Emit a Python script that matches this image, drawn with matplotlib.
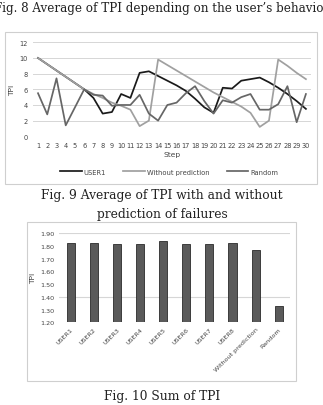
import matplotlib.pyplot as plt
from matplotlib.patches import Rectangle

# Fig. 9 data: average TPI per step
steps = list(range(1, 31))
user1 = [10, 9.2, 8.4, 7.6, 6.8, 6.0, 4.9, 2.9, 3.1, 5.4,
         4.9, 8.1, 8.3, 7.7, 7.1, 6.5, 5.8, 4.8, 3.7, 3.0,
         6.2, 6.1, 7.1, 7.3, 7.5, 6.9, 6.2, 5.4, 4.5, 3.5]
without_pred = [10, 9.2, 8.4, 7.6, 6.8, 6.0, 5.4, 4.9, 4.3, 3.9,
                3.4, 1.3, 2.0, 9.8, 9.1, 8.4, 7.7, 7.0, 6.3, 5.6,
                5.0, 4.4, 3.8, 3.0, 1.2, 2.0, 9.8, 9.0, 8.1, 7.3]
random_tpi = [5.5, 2.8, 7.4, 1.4, 3.7, 6.0, 5.3, 5.2, 3.9, 4.0,
              4.0, 5.3, 2.9, 2.0, 4.0, 4.3, 5.5, 6.4, 4.5, 2.9,
              4.6, 4.3, 5.0, 5.4, 3.4, 3.4, 4.1, 6.4, 1.8, 5.4]

# Fig. 10 data: sum of TPI
bar_labels = ['USER1', 'USER2', 'USER3', 'USER4', 'USER5', 'USER6',
              'USER7', 'USER8', 'Without prediction', 'Random']
tpi_sum = [1.82, 1.825, 1.81, 1.81, 1.84, 1.81, 1.815, 1.825, 1.77, 1.33]

fig = plt.figure(figsize=(3.23, 4.06), dpi=100)
cap_font = dict(family='DejaVu Serif', fontsize=8.8, color='#222222')

# captions (the top one runs past the page edges, as in the scanned page)
fig.text(0.501, 0.980, 'Fig. 8 Average of TPI depending on the user\u2019s behavior',
         ha='center', va='center', family='DejaVu Serif', fontsize=8.6, color='#222222')
fig.text(0.502, 0.518, 'Fig. 9 Average of TPI with and without',
         ha='center', va='center', **cap_font)
fig.text(0.502, 0.471, 'prediction of failures', ha='center', va='center', **cap_font)
fig.text(0.502, 0.024, 'Fig. 10 Sum of TPI', ha='center', va='center', **cap_font)

# chart frames
fig.patches.append(Rectangle((0.0155, 0.5443), 0.966, 0.3744, transform=fig.transFigure,
                             fill=False, edgecolor='#cfcfcf', linewidth=0.8))
fig.patches.append(Rectangle((0.0836, 0.0591), 0.833, 0.3916, transform=fig.transFigure,
                             fill=False, edgecolor='#cfcfcf', linewidth=0.8))

# line chart
ax1 = fig.add_axes([0.1034, 0.6618, 0.858, 0.2315])
ax1.plot(steps, user1, color='#1a1a1a', linewidth=1.25, label='USER1')
ax1.plot(steps, without_pred, color='#a0a0a0', linewidth=1.25, label='Without prediction')
ax1.plot(steps, random_tpi, color='#666666', linewidth=1.25, label='Random')
ax1.set_xlim(0.5, 30.5)
ax1.set_ylim(0, 12)
ax1.set_yticks(range(0, 13, 2))
ax1.set_xticks(steps)
ax1.grid(axis='y', color='#d6d6d6', linewidth=0.7)
ax1.set_axisbelow(True)
for s in ax1.spines.values():
    s.set_visible(False)
ax1.tick_params(length=0, labelsize=4.8, labelcolor='#444444', pad=4)
ax1.set_xlabel('Step', fontsize=5.4, color='#444444', labelpad=2)
ax1.set_ylabel('TPI', fontsize=5.4, color='#444444', labelpad=3)
ax1.legend(loc='upper center', bbox_to_anchor=(0.49, -0.28), ncol=3, frameon=False,
           fontsize=4.9, handlelength=3.2, columnspacing=2.5, handletextpad=0.3,
           labelcolor='#444444')

# bar chart
ax2 = fig.add_axes([0.1833, 0.2037, 0.7155, 0.2199])
ax2.bar(range(len(tpi_sum)), tpi_sum, width=0.35, color='#5a5a5a',
        edgecolor='#2a2a2a', linewidth=0.6)
ax2.set_xlim(-0.5, len(tpi_sum) - 0.5)
ax2.set_ylim(1.20, 1.90)
ax2.set_yticks([1.20, 1.30, 1.40, 1.50, 1.60, 1.70, 1.80, 1.90])
ax2.set_yticklabels(['%.2f' % v for v in ax2.get_yticks()])
for gy in [1.40, 1.90]:
    ax2.axhline(gy, color='#d6d6d6', linewidth=0.8, zorder=0)
ax2.set_xticks(range(len(bar_labels)))
ax2.set_xticklabels(bar_labels, rotation=45, ha='right', rotation_mode='anchor')
for s in ax2.spines.values():
    s.set_visible(False)
ax2.tick_params(length=0, labelsize=4.6, labelcolor='#444444')
ax2.tick_params(axis='x', pad=3)
ax2.set_ylabel('TPI', fontsize=5.4, color='#444444', labelpad=3)

fig.savefig('out.png', dpi=100)
